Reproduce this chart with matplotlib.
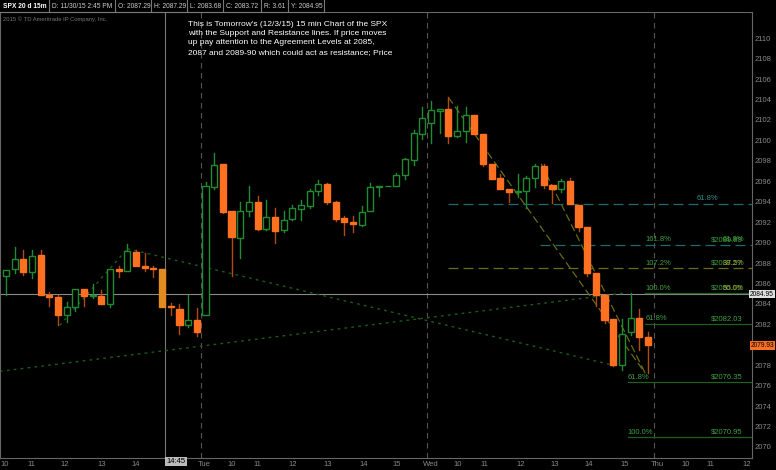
import matplotlib
matplotlib.use("Agg")
import matplotlib.pyplot as plt
from matplotlib.patches import Rectangle

plt.rcParams['font.family'] = ['Liberation Sans', 'DejaVu Sans']

# OHLC (15-min SPX bars, Mon 11/30 ~10:15 -> Wed 12/2 close)
opens = [2086.7,2087.4,2088.4,2087.1,2088.8,2084.9,2084.7,2082.9,2083.7,2085.5,2084.8,2084.8,2084.0,2087.4,2087.2,2089.1,2087.7,2087.5,2087.4,2083.8,2083.5,2081.9,2082.4,
         2082.9,2095.4,2097.7,2093.1,2090.4,2093.1,2094.0,2091.3,2092.5,2091.2,2092.3,2093.3,2093.6,2095.0,2095.7,2094.0,2092.4,2092.0,2091.7,2093.1,2095.4,2095.5,2095.5,2096.6,2098.1,2100.6,
         2101.7,2102.9,2103.1,2100.4,2100.9,2102.5,2100.6,2097.7,2096.3,2095.2,2094.9,2095.0,2096.3,2097.5,2095.6,2095.2,2096.0,2093.7,2091.5,2087.0,2084.9,2082.5,2078.0,2081.2,2082.6,2080.8]
highs = [2087.3,2089.6,2089.3,2089.3,2089.3,2085.2,2084.9,2084.2,2085.5,2085.5,2085.9,2085.4,2087.4,2087.7,2089.9,2089.3,2089.0,2087.7,2087.4,2084.1,2084.0,2084.9,2083.6,
         2095.9,2098.8,2097.7,2093.1,2094.0,2095.5,2094.6,2094.2,2093.4,2093.1,2093.7,2094.2,2095.2,2096.1,2095.8,2094.1,2092.6,2092.6,2093.6,2095.8,2095.5,2095.5,2096.8,2098.3,2101.0,2103.3,
         2103.9,2103.1,2104.2,2103.4,2103.3,2102.5,2100.6,2097.7,2096.7,2095.2,2096.7,2096.5,2097.7,2097.7,2095.6,2096.2,2096.3,2093.7,2091.5,2087.0,2084.9,2082.5,2082.5,2085.1,2083.5,2081.2]
lows = [2084.9,2087.0,2086.8,2086.5,2084.9,2083.8,2081.9,2082.2,2083.3,2083.8,2084.6,2084.0,2083.7,2086.6,2087.2,2087.7,2087.2,2086.6,2083.7,2082.9,2081.1,2081.7,2080.9,
         2082.9,2095.2,2092.9,2086.7,2088.5,2092.6,2091.2,2091.2,2090.0,2091.0,2092.2,2092.2,2093.4,2094.7,2093.8,2092.1,2090.7,2091.0,2091.6,2093.1,2094.6,2095.5,2095.5,2096.2,2097.6,2100.1,
         2099.7,2100.7,2099.7,2100.3,2099.8,2100.6,2097.5,2096.2,2095.2,2094.0,2094.5,2093.4,2095.4,2095.3,2093.9,2094.9,2093.8,2091.1,2086.7,2083.8,2082.1,2077.9,2077.5,2081.0,2079.5,2077.2]
closes = [2087.3,2088.4,2087.1,2088.7,2084.9,2084.7,2082.9,2083.7,2085.5,2084.8,2084.9,2084.0,2087.4,2087.2,2089.2,2087.7,2087.5,2087.4,2083.7,2083.7,2081.9,2082.4,2081.2,
          2095.5,2097.6,2093.0,2090.5,2093.1,2094.0,2091.3,2092.5,2091.1,2092.2,2093.4,2093.7,2095.0,2095.7,2094.0,2092.3,2092.0,2091.8,2093.0,2095.4,2095.5,2095.5,2096.6,2098.2,2100.7,2102.2,
          2103.0,2103.1,2100.4,2100.9,2102.5,2100.6,2097.7,2096.2,2095.2,2094.9,2095.0,2096.3,2097.5,2095.6,2095.2,2096.0,2093.8,2091.5,2087.0,2084.9,2082.4,2078.0,2081.1,2082.6,2080.8,2079.93]

right_ticks = list(range(2070, 2112, 2))
x_labels = ["10","11","12","13","14","Tue","10","11","12","13","14","15","Wed","10","11","12","13","14","15","Thu","10","11","12"]
x_label_pos = [-0.1,2.9,6.8,11.0,15.0,22.8,26.0,29.0,33.1,37.1,41.2,45.1,49.0,52.1,55.1,59.3,63.2,67.2,71.3,75.1,78.3,81.2,85.4]
day_breaks = [22.5, 48.5, 74.7]
last_price = 2084.95
cursor_bar = 18.35
cursor_label_pos = 19.6

# Fibonacci levels: (price, start_bar, color, style, left label, right labels)
fib_levels = [
    (2093.8, 50.9, "#1d6b6b", (0, (8, 4)), "", ["61.8%"]),
    (2089.8, 61.6, "#1d6b6b", (0, (8, 4)), "161.8%", ["$2089.89", "61.8%"]),
    (2087.5, 50.9, "#6b6b10", (0, (8, 4)), "107.2%", ["$2087.57", "38.2%"]),
    (2085.05, 73.7, "#1f5f1f", "-", "100.0%", ["$2085.05", "50.0%"]),
    (2082.03, 73.7, "#1f5f1f", "-", "61.8%", ["$2082.03"]),
    (2076.35, 71.7, "#1f5f1f", "-", "61.8%", ["$2076.35"]),
    (2070.95, 71.7, "#1f5f1f", "-", "100.0%", ["$2070.95"]),
]
dotted_lines = [((-0.7, 71.4), (2077.4, 2085.07)),
                ((6.2, 14.0), (2081.9, 2089.4)),
                ((14.0, 70.0), (2089.4, 2078.0))]
olive_lines = [((51.0, 73.7), (2104.2, 2077.2)),
               ((61.7, 73.7), (2097.7, 2077.2))]

W, H = 776, 470
fig = plt.figure(figsize=(W/100, H/100), dpi=100, facecolor="black")
ax = fig.add_axes([0, 12/H, 752/W, 446/H], facecolor="black")
ax.set_xlim(-0.69, 86.0)
ax.set_ylim(2068.92, 2112.56)

green = "#1f8a30"
orange = "#ff7020"
bw = 0.7
for i, (o, h, l, c) in enumerate(zip(opens, highs, lows, closes)):
    up = c >= o
    col = green if up else orange
    wick = green if up else "#b04a10"
    lo, hi = min(o, c), max(o, c)
    ax.plot([i, i], [l, lo], color=wick, lw=1, zorder=3)
    ax.plot([i, i], [hi, h], color=wick, lw=1, zorder=3)
    fc = "black" if up else (orange if i != 18 else "#e08a20")
    ax.add_patch(Rectangle((i-bw/2, lo), bw, max(hi-lo, 0.08), facecolor=fc,
                           edgecolor=col if up else fc, lw=1, zorder=4))

for d in day_breaks:
    ax.axvline(d, color="#555555", lw=0.8, ls=(0, (5, 4)), zorder=1)
ax.axvline(cursor_bar, color="#777777", lw=0.8, zorder=1)
ax.axhline(last_price, color="#8a8a8a", lw=0.8, zorder=2)

for xs, ys in dotted_lines:
    ax.plot(xs, ys, color="#1a5a1a", lw=1, ls=(0, (2, 3)), zorder=2)
for xs, ys in olive_lines:
    ax.plot(xs, ys, color="#6b6b10", lw=0.9, ls=(0, (6, 3)), zorder=2)

fs = 5.5
for p, x0, col, ls, ll, rl in fib_levels:
    ax.plot([x0, 86.0], [p, p], color=col, lw=0.9, ls=ls, zorder=2)
    tcol = "#2f8f8f" if col == "#1d6b6b" else "#3f9f3f"
    if ll:
        ax.text(x0 if x0 > 70 else 73.7, p + 0.15, ll, color="#3f9f3f", fontsize=fs, va="bottom", ha="left")
    xr = [81.2, 82.6]
    for k, t in enumerate(rl):
        if len(rl) == 1 and t.startswith("6"):
            ax.text(79.6, p + 0.15, t, color=tcol, fontsize=fs, va="bottom", ha="left")
        else:
            c2 = "#9f9f2f" if t in ("38.2%", "50.0%") else "#3f9f3f"
            ax.text(xr[k], p + 0.15, t, color=c2, fontsize=fs, va="bottom", ha="left")

for s in ["top", "left", "right", "bottom"]:
    ax.spines[s].set_color("#666666")
ax.yaxis.tick_right()
ax.set_yticks(right_ticks)
ax.set_yticklabels([str(t) for t in right_ticks])
ax.tick_params(axis="y", colors="#888888", labelsize=fs, length=0, pad=2)
ax.set_xticks(x_label_pos)
ax.set_xticklabels(x_labels)
ax.tick_params(axis="x", colors="#888888", labelsize=fs, length=0, pad=2)
ax.text(cursor_label_pos, 2068.92, "14:45", fontsize=fs, color="black",
        ha="center", va="top", bbox=dict(boxstyle="square,pad=0.15", fc="#bbbbbb", ec="none"), clip_on=False)

# price boxes on right axis (figure coords, right-aligned inside the figure)
trans = ax.get_yaxis_transform()
for price, label, bg in [(last_price, "2084.95", "#e0e0e0"), (closes[-1], "2079.93", orange)]:
    yfig = fig.transFigure.inverted().transform(ax.transData.transform((0, price)))[1]
    fig.text(774/W, yfig, label, fontsize=4.8, color="black", ha="right", va="center", zorder=10,
             bbox=dict(boxstyle="square,pad=0.12", fc=bg, ec="none"))

# header strip
header = ["SPX 20 d 15m", "D: 11/30/15 2:45 PM", "O: 2087.29", "H: 2087.29", "L: 2083.68",
          "C: 2083.72", "R: 3.61", "Y: 2084.95"]
xs = [3, 52, 118, 154, 190, 226, 264, 291]
for k, (t, x) in enumerate(zip(header, xs)):
    fig.text(x/W, 1 - 6/H, t, color="white" if k == 0 else "#cccccc", fontsize=4.8,
             fontweight="bold" if k == 0 else "normal", va="center", ha="left")
for x in xs[1:] + [327]:
    fig.add_artist(plt.Line2D([(x-3)/W]*2, [1-12/H, 1], color="#777777", lw=0.8))
fig.add_artist(plt.Line2D([0, 324/W], [1-12/H]*2, color="#777777", lw=0.8))
fig.text(3/W, 1 - 19/H, "2015 © TD Ameritrade IP Company, Inc.", color="#777777", fontsize=4.2, va="center")
note = ("This is Tomorrow's (12/3/15) 15 min Chart of the SPX\n"
        "with the Support and Resistance lines. If price moves\n"
        "up pay attention to the Agreement Levels at 2085,\n"
        "2087 and 2089-90 which could act as resistance; Price")
fig.text(188/W, 1 - 21/H, note, color="white", fontsize=6.0, va="top", ha="left", linespacing=1.45)

fig.savefig("out.png", dpi=100, facecolor="black")
